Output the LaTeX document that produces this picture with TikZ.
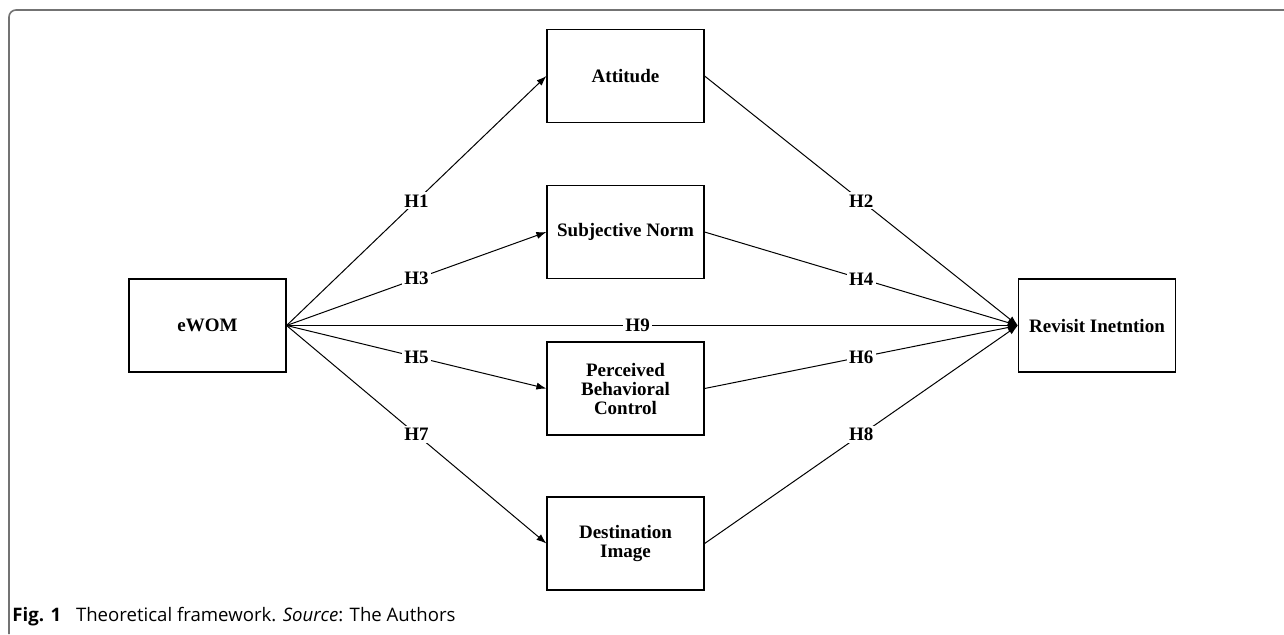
\documentclass[tikz,border=0pt]{standalone}
\usepackage{fontspec}
\setmainfont{Liberation Serif}
\newfontfamily\capfont{Open Sans}
\usetikzlibrary{arrows.meta,positioning}

\tikzset{
  construct/.style={draw, line width=0.6pt, minimum width=78.5pt, minimum height=46.5pt,
    align=center, font=\fontsize{9.5}{9.5}\selectfont\bfseries},
  hyp/.style={-{Latex[length=5pt,width=3.6pt]}, line width=0.5pt},
  hlabel/.style={fill=white, inner sep=1.2pt, font=\fontsize{9.5}{10}\selectfont\bfseries}
}

\begin{document}
\begin{tikzpicture}[x=0.5pt,y=-0.5pt]
  \useasboundingbox (0,0) rectangle (1284,634);
  % frame of the figure
  \draw[gray!90!black, line width=0.8pt, rounded corners=3.5pt] (9,634) -- (9,10) -- (1284,10);

  % constructs
  \node[construct] (ewom) at (207.5,325.5) {eWOM};
  \node[construct] (att) at (625.5,76) {Attitude};
  \node[construct] (sn) at (625.5,232) {Subjective Norm};
  \node[construct] (pbc) at (625.5,388.5) {Perceived\\Behavioral\\Control};
  \node[construct] (di) at (625.5,543.5) {Destination\\Image};
  \node[construct] (rev) at (1097,325.5) {Revisit Inetntion};

  % hypotheses
  \draw[hyp] (ewom.east) -- node[hlabel] {H1} (att.west);
  \draw[hyp] (ewom.east) -- node[hlabel] {H3} (sn.west);
  \draw[hyp] (ewom.east) -- node[hlabel] {H5} (pbc.west);
  \draw[hyp] (ewom.east) -- node[hlabel] {H7} (di.west);
  \draw[hyp] (att.east) -- node[hlabel] {H2} (rev.west);
  \draw[hyp] (sn.east) -- node[hlabel] {H4} (rev.west);
  \draw[hyp] (pbc.east) -- node[hlabel] {H6} (rev.west);
  \draw[hyp] (di.east) -- node[hlabel] {H8} (rev.west);
  \draw[hyp] (ewom.east) -- node[hlabel, pos=0.48] {H9} (rev.west);

  % caption
  \node[anchor=base west, inner sep=0pt, font=\capfont\fontsize{9.3}{10}\selectfont] (cap) at (12,621)
    {\textbf{Fig. 1}\hspace{0.8em}Theoretical framework. \textit{Source}: The Authors};
\end{tikzpicture}
\end{document}
